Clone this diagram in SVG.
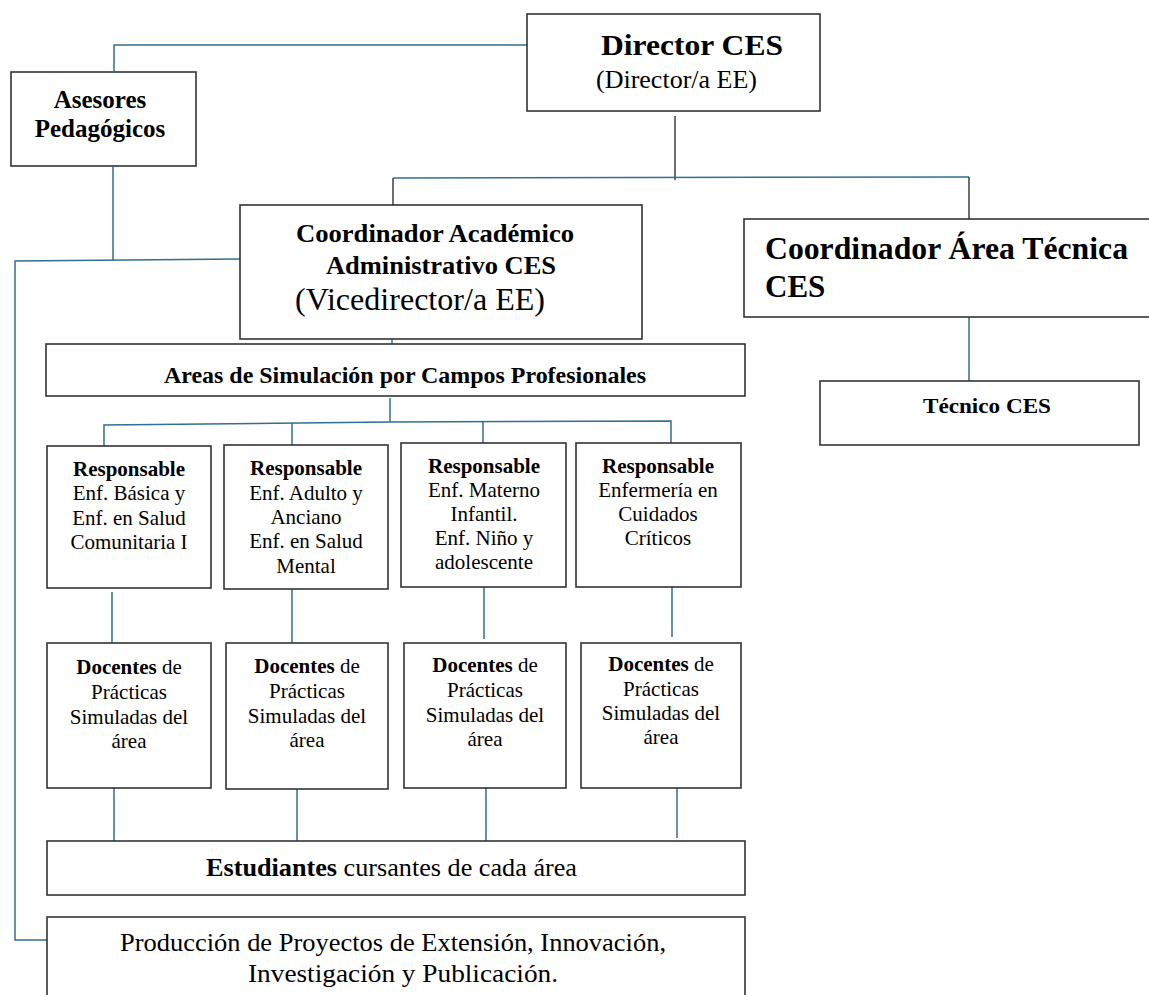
<svg xmlns="http://www.w3.org/2000/svg" width="1149" height="995" viewBox="0 0 1149 995">
<style>
.box{fill:#fff;stroke:#333;stroke-width:1.6}
.ln{stroke:#31708f;stroke-width:1.5;fill:none}
.lk{stroke:#222;stroke-width:1.3;fill:none}
.b{font-weight:bold}
.s{font-size:21px;text-anchor:middle}
</style>
<rect width="1149" height="995" fill="#fff"/>
<g id="connectors">
<polyline class="ln" points="527,45 114,45 114,71"/>
<line class="lk" x1="675" y1="116" x2="675" y2="180"/>
<line class="ln" x1="393" y1="178" x2="969" y2="177"/>
<line class="lk" x1="393" y1="178" x2="393" y2="226"/>
<line class="lk" x1="969" y1="177" x2="969" y2="219"/>
<line class="ln" x1="113" y1="167" x2="113" y2="260"/>
<polyline class="ln" points="240,259 15,261 15,940 47,940"/>
<line class="ln" x1="392" y1="321" x2="392" y2="350"/>
<line class="ln" x1="390" y1="398" x2="390" y2="422"/>
<polyline class="ln" points="104,446 104,425 390,422 671,421 671,443"/>
<line class="ln" x1="292" y1="423" x2="292" y2="445"/>
<line class="ln" x1="483" y1="422" x2="483" y2="443"/>
<line class="ln" x1="112" y1="592" x2="112" y2="643"/>
<line class="ln" x1="292" y1="589" x2="292" y2="643"/>
<line class="ln" x1="484" y1="587" x2="484" y2="639"/>
<line class="ln" x1="672" y1="587" x2="672" y2="637"/>
<line class="ln" x1="114" y1="788" x2="114" y2="841"/>
<line class="ln" x1="297" y1="789" x2="297" y2="841"/>
<line class="ln" x1="486" y1="788" x2="486" y2="841"/>
<line class="ln" x1="677" y1="785" x2="677" y2="838"/>
<line class="ln" x1="969" y1="317" x2="969" y2="381"/>
</g>
<g font-family="Liberation Serif, Times New Roman, DejaVu Serif, serif" fill="#000">
<g id="director">
<rect class="box" x="527" y="14" width="293" height="97"/>
<text class="b" x="601" y="55" font-size="30" textLength="182" lengthAdjust="spacingAndGlyphs">Director CES</text>
<text x="596" y="88" font-size="26" textLength="161" lengthAdjust="spacingAndGlyphs">(Director/a EE)</text>
</g>
<g id="asesores">
<rect class="box" x="11" y="72" width="185" height="94"/>
<text class="b" x="100" y="108" font-size="25" text-anchor="middle">Asesores</text>
<text class="b" x="100" y="137" font-size="25" text-anchor="middle">Pedagógicos</text>
</g>
<g id="coord-academico">
<rect class="box" x="240" y="205" width="402" height="134"/>
<text class="b" x="296" y="242" font-size="26" textLength="278" lengthAdjust="spacingAndGlyphs">Coordinador Académico</text>
<text class="b" x="326" y="274" font-size="26" textLength="230" lengthAdjust="spacingAndGlyphs">Administrativo CES</text>
<text x="295" y="310" font-size="31" textLength="250" lengthAdjust="spacingAndGlyphs">(Vicedirector/a EE)</text>
</g>
<g id="coord-tecnica">
<rect class="box" x="744" y="219" width="410" height="98"/>
<text class="b" x="765" y="259" font-size="31" textLength="363" lengthAdjust="spacingAndGlyphs">Coordinador Área Técnica</text>
<text class="b" x="765" y="297" font-size="31">CES</text>
</g>
<g id="tecnico">
<rect class="box" x="820" y="381" width="319" height="64"/>
<text class="b" x="923" y="413" font-size="22" textLength="128" lengthAdjust="spacingAndGlyphs">Técnico CES</text>
</g>
<g id="areas">
<rect class="box" x="46" y="344" width="699" height="52"/>
<text class="b" x="164" y="383" font-size="23" textLength="482" lengthAdjust="spacingAndGlyphs">Areas de Simulación por Campos Profesionales</text>
</g>
<g id="resp1">
<rect class="box" x="47" y="446" width="164" height="142"/>
<text class="s b" x="129" y="476">Responsable</text>
<text class="s" x="129" y="500">Enf. Básica y</text>
<text class="s" x="129" y="525">Enf. en Salud</text>
<text class="s" x="129" y="549">Comunitaria I</text>
</g>
<g id="resp2">
<rect class="box" x="224" y="445" width="164" height="144"/>
<text class="s b" x="306" y="475">Responsable</text>
<text class="s" x="306" y="500">Enf. Adulto y</text>
<text class="s" x="306" y="524">Anciano</text>
<text class="s" x="306" y="548">Enf. en Salud</text>
<text class="s" x="306" y="573">Mental</text>
</g>
<g id="resp3">
<rect class="box" x="401" y="443" width="165" height="144"/>
<text class="s b" x="484" y="473">Responsable</text>
<text class="s" x="484" y="497">Enf. Materno</text>
<text class="s" x="484" y="521">Infantil.</text>
<text class="s" x="484" y="545">Enf. Niño y</text>
<text class="s" x="484" y="569">adolescente</text>
</g>
<g id="resp4">
<rect class="box" x="576" y="443" width="165" height="144"/>
<text class="s b" x="658" y="473">Responsable</text>
<text class="s" x="658" y="497">Enfermería en</text>
<text class="s" x="658" y="521">Cuidados</text>
<text class="s" x="658" y="545">Críticos</text>
</g>
<g id="doc1">
<rect class="box" x="47" y="643" width="164" height="145"/>
<text class="s" x="129" y="674"><tspan class="b">Docentes</tspan> de</text>
<text class="s" x="129" y="699">Prácticas</text>
<text class="s" x="129" y="724">Simuladas del</text>
<text class="s" x="129" y="748">área</text>
</g>
<g id="doc2">
<rect class="box" x="226" y="643" width="162" height="146"/>
<text class="s" x="307" y="673"><tspan class="b">Docentes</tspan> de</text>
<text class="s" x="307" y="698">Prácticas</text>
<text class="s" x="307" y="723">Simuladas del</text>
<text class="s" x="307" y="747">área</text>
</g>
<g id="doc3">
<rect class="box" x="404" y="643" width="162" height="145"/>
<text class="s" x="485" y="672"><tspan class="b">Docentes</tspan> de</text>
<text class="s" x="485" y="697">Prácticas</text>
<text class="s" x="485" y="722">Simuladas del</text>
<text class="s" x="485" y="746">área</text>
</g>
<g id="doc4">
<rect class="box" x="581" y="643" width="160" height="145"/>
<text class="s" x="661" y="671"><tspan class="b">Docentes</tspan> de</text>
<text class="s" x="661" y="696">Prácticas</text>
<text class="s" x="661" y="720">Simuladas del</text>
<text class="s" x="661" y="744">área</text>
</g>
<g id="estudiantes">
<rect class="box" x="47" y="841" width="698" height="54"/>
<text x="206" y="876" font-size="26" textLength="371" lengthAdjust="spacingAndGlyphs"><tspan class="b">Estudiantes</tspan> cursantes de cada área</text>
</g>
<g id="produccion">
<rect class="box" x="47" y="917" width="698" height="90"/>
<text x="120" y="951" font-size="26" textLength="546" lengthAdjust="spacingAndGlyphs">Producción de Proyectos de Extensión, Innovación,</text>
<text x="248" y="982" font-size="26" textLength="310" lengthAdjust="spacingAndGlyphs">Investigación y Publicación.</text>
</g>
</g>
</svg>
